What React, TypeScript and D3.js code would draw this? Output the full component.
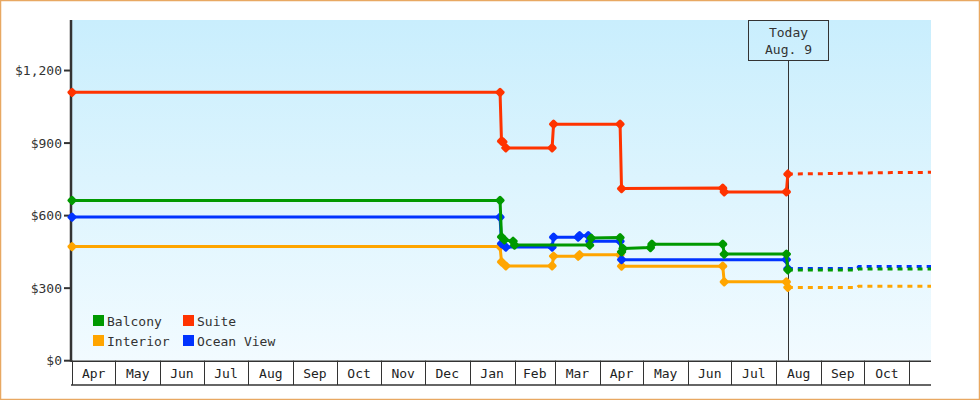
import { useEffect, useRef } from "react";
import * as d3 from "d3";

type Point = [string, number];

// Observed prices (solid lines)
const balcony: Point[] = [
    ["2018-04-01", 663],
    ["2019-01-22", 663],
    ["2019-01-23", 512],
    ["2019-01-25", 500],
    ["2019-01-31", 494],
    ["2019-02-01", 478],
    ["2019-03-25", 478],
    ["2019-03-26", 507],
    ["2019-04-15", 509],
    ["2019-04-16", 450],
    ["2019-04-17", 464],
    ["2019-05-06", 468],
    ["2019-05-07", 482],
    ["2019-06-25", 482],
    ["2019-06-26", 441],
    ["2019-08-08", 441],
    ["2019-08-09", 376],
];

const suite: Point[] = [
    ["2018-04-01", 1110],
    ["2019-01-22", 1110],
    ["2019-01-23", 908],
    ["2019-01-24", 905],
    ["2019-01-26", 880],
    ["2019-02-27", 880],
    ["2019-02-28", 978],
    ["2019-04-15", 978],
    ["2019-04-16", 712],
    ["2019-06-25", 714],
    ["2019-06-26", 698],
    ["2019-08-08", 698],
    ["2019-08-09", 772],
];

const interior: Point[] = [
    ["2018-04-01", 472],
    ["2019-01-22", 472],
    ["2019-01-23", 409],
    ["2019-01-26", 392],
    ["2019-02-27", 392],
    ["2019-02-28", 432],
    ["2019-03-17", 432],
    ["2019-03-18", 438],
    ["2019-04-15", 438],
    ["2019-04-16", 391],
    ["2019-06-25", 391],
    ["2019-06-26", 326],
    ["2019-08-08", 326],
    ["2019-08-09", 303],
];

const oceanView: Point[] = [
    ["2018-04-01", 594],
    ["2019-01-22", 594],
    ["2019-01-23", 484],
    ["2019-01-26", 470],
    ["2019-02-27", 470],
    ["2019-02-28", 511],
    ["2019-03-17", 511],
    ["2019-03-18", 517],
    ["2019-03-24", 517],
    ["2019-03-25", 494],
    ["2019-04-15", 494],
    ["2019-04-16", 418],
    ["2019-08-08", 418],
    ["2019-08-09", 381],
];

// Projected prices (dashed lines)
const balconyForecast: Point[] = [
    ["2019-08-09", 375],
    ["2019-09-26", 375],
    ["2019-09-27", 379],
    ["2019-11-16", 379],
];

const suiteForecast: Point[] = [
    ["2019-08-09", 772],
    ["2019-09-10", 774],
    ["2019-09-27", 776],
    ["2019-10-20", 778],
    ["2019-11-16", 779],
];

const interiorForecast: Point[] = [
    ["2019-08-09", 303],
    ["2019-09-26", 303],
    ["2019-09-27", 308],
    ["2019-11-16", 308],
];

const oceanViewForecast: Point[] = [
    ["2019-08-09", 381],
    ["2019-09-26", 381],
    ["2019-09-27", 390],
    ["2019-11-16", 390],
];

const yTicks = [0, 300, 600, 900, 1200];
const domainStart = "2018-04-01";
const domainEnd = "2019-11-16";
const today = "2019-08-09";
const todayLabel = ["Today", "Aug. 9"];

const series = [
    { name: "Interior", color: "#ffa500", solid: interior, forecast: interiorForecast },
    { name: "Ocean View", color: "#0033ff", solid: oceanView, forecast: oceanViewForecast },
    { name: "Balcony", color: "#009900", solid: balcony, forecast: balconyForecast },
    { name: "Suite", color: "#ff3300", solid: suite, forecast: suiteForecast },
];

const legendItems = [
    { name: "Balcony", color: "#009900" },
    { name: "Suite", color: "#ff3300" },
    { name: "Interior", color: "#ffa500" },
    { name: "Ocean View", color: "#0033ff" },
];

const FONT = "'DejaVu Sans Mono', monospace";
const INK = "#333";

const App = () => {
    const chartRef = useRef<SVGSVGElement>(null);

    useEffect(() => {
        if (!chartRef.current) return;
        const svg = d3.select(chartRef.current);
        svg.selectAll("*").remove();

        const W = 980;
        const H = 400;
        const left = 72;
        const right = 931;
        const top = 20;
        const bottom = 360.7;
        const axisBottom = 385;

        const parse = d3.utcParse("%Y-%m-%d");

        const x = d3
            .scaleUtc()
            .domain([parse(domainStart)!, parse(domainEnd)!])
            .range([left, right]);
        const y = d3.scaleLinear().domain([0, 1409]).range([bottom, top]);

        // Gradient background
        const defs = svg.append("defs");
        const grad = defs
            .append("linearGradient")
            .attr("id", "bg")
            .attr("x1", 0)
            .attr("y1", 0)
            .attr("x2", 0)
            .attr("y2", 1);
        grad.append("stop").attr("offset", "0%").attr("stop-color", "#c9eefd");
        grad.append("stop").attr("offset", "100%").attr("stop-color", "#f2fbff");

        svg.append("rect")
            .attr("x", 0.5)
            .attr("y", 0.5)
            .attr("width", W - 1)
            .attr("height", H - 1)
            .attr("fill", "#fff")
            .attr("stroke", "#e8a862")
            .attr("stroke-width", 1.5);

        svg.append("rect")
            .attr("x", left)
            .attr("y", top)
            .attr("width", right - left)
            .attr("height", bottom - top)
            .attr("fill", "url(#bg)");

        // Month boxes along the bottom
        const [d0, d1] = x.domain();
        const monthStarts = d3.utcMonth.range(d0, d1);
        const xAxis = svg.append("g").attr("stroke", INK).attr("fill", "none");
        xAxis.append("line")
            .attr("x1", left - 1)
            .attr("x2", right)
            .attr("y1", bottom + 0.5)
            .attr("y2", bottom + 0.5)
            .attr("stroke-width", 1.5);
        xAxis.append("line")
            .attr("x1", left - 1)
            .attr("x2", right)
            .attr("y1", axisBottom)
            .attr("y2", axisBottom)
            .attr("stroke-width", 1.5);
        monthStarts.forEach((m) => {
            const px = Math.round(x(m)) + 0.5;
            xAxis.append("line")
                .attr("x1", px)
                .attr("x2", px)
                .attr("y1", bottom)
                .attr("y2", axisBottom)
                .attr("stroke-width", 1);
        });
        svg.append("g")
            .selectAll("text")
            .data(monthStarts.filter((m) => d3.utcMonth.offset(m, 1) <= d1))
            .join("text")
            .attr("x", (m) => (x(m) + x(d3.utcMonth.offset(m, 1))) / 2)
            .attr("y", (bottom + axisBottom) / 2 + 1)
            .attr("text-anchor", "middle")
            .attr("dominant-baseline", "central")
            .attr("font-family", FONT)
            .attr("font-size", 13)
            .attr("fill", "#222")
            .text((m) => d3.utcFormat("%b")(m));

        // Y axis
        const yAxis = svg.append("g");
        yAxis.append("line")
            .attr("x1", left - 1)
            .attr("x2", left - 1)
            .attr("y1", top)
            .attr("y2", bottom + 1)
            .attr("stroke", INK)
            .attr("stroke-width", 2.5);
        yAxis.selectAll("line.tick")
            .data(yTicks)
            .join("line")
            .attr("class", "tick")
            .attr("x1", left - 8)
            .attr("x2", left - 1)
            .attr("y1", (d) => y(d))
            .attr("y2", (d) => y(d))
            .attr("stroke", INK)
            .attr("stroke-width", 2);
        yAxis.selectAll("text")
            .data(yTicks)
            .join("text")
            .attr("x", left - 10)
            .attr("y", (d) => y(d))
            .attr("text-anchor", "end")
            .attr("dominant-baseline", "central")
            .attr("font-family", FONT)
            .attr("font-size", 13)
            .attr("fill", INK)
            .text((d) => d3.format("$,")(d));

        // Today marker
        const tx = Math.round(x(parse(today)!)) + 0.5;
        svg.append("line")
            .attr("x1", tx)
            .attr("x2", tx)
            .attr("y1", 61)
            .attr("y2", bottom)
            .attr("stroke", INK)
            .attr("stroke-width", 1);
        svg.append("rect")
            .attr("x", tx - 40)
            .attr("y", top + 0.5)
            .attr("width", 80)
            .attr("height", 40)
            .attr("fill", "none")
            .attr("stroke", INK)
            .attr("stroke-width", 1);
        svg.append("g")
            .selectAll("text")
            .data(todayLabel)
            .join("text")
            .attr("x", tx)
            .attr("y", (_, i) => 32 + i * 17)
            .attr("text-anchor", "middle")
            .attr("dominant-baseline", "central")
            .attr("font-family", FONT)
            .attr("font-size", 13)
            .attr("fill", INK)
            .text((d) => d);

        // Lines and markers
        const line = d3
            .line<Point>()
            .x((d) => x(parse(d[0])!))
            .y((d) => y(d[1]));

        series.forEach((s) => {
            const g = svg.append("g");
            g.append("path")
                .attr("d", line(s.forecast))
                .attr("fill", "none")
                .attr("stroke", s.color)
                .attr("stroke-width", 3)
                .attr("stroke-dasharray", "5,5");
            g.append("path")
                .attr("d", line(s.solid))
                .attr("fill", "none")
                .attr("stroke", s.color)
                .attr("stroke-width", 3)
                .attr("stroke-linejoin", "round");
            g.selectAll("rect")
                .data(s.solid)
                .join("rect")
                .attr("x", -3.7)
                .attr("y", -3.7)
                .attr("width", 7.4)
                .attr("height", 7.4)
                .attr("rx", 1.6)
                .attr("fill", s.color)
                .attr("transform", (d) => `translate(${x(parse(d[0])!)},${y(d[1])}) rotate(45)`);
        });

        // Legend
        const legend = svg
            .append("g")
            .selectAll("g")
            .data(legendItems)
            .join("g")
            .attr("transform", (_, i) => `translate(${93 + (i % 2) * 90},${315 + Math.floor(i / 2) * 20})`);
        legend.append("rect")
            .attr("width", 11)
            .attr("height", 11)
            .attr("fill", (d) => d.color);
        legend.append("text")
            .attr("x", 14)
            .attr("y", 6)
            .attr("dominant-baseline", "central")
            .attr("font-family", FONT)
            .attr("font-size", 13)
            .attr("fill", INK)
            .text((d) => d.name);
    }, []);

    return (
        <svg
            ref={chartRef}
            width={980}
            height={400}
            style={{ position: "absolute", left: 0, top: 0, display: "block" }}
        />
    );
};

export default App;
